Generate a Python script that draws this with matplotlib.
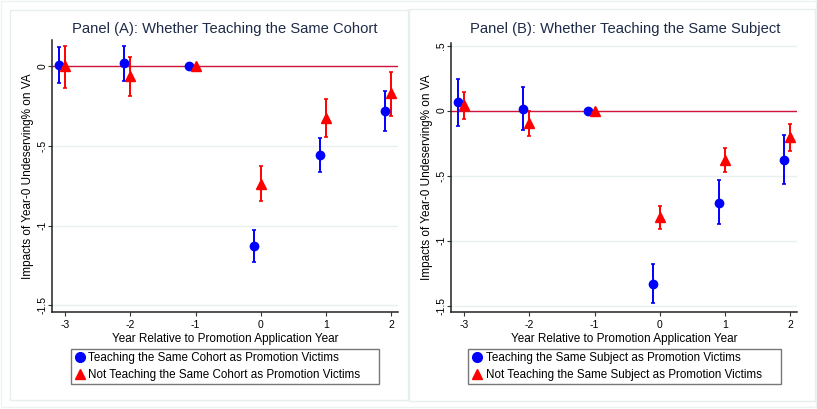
import matplotlib
matplotlib.use("Agg")
import matplotlib.pyplot as plt
from matplotlib.lines import Line2D
from matplotlib.patches import Rectangle

plt.rcParams['font.family'] = ['Liberation Sans', 'DejaVu Sans']

years = [-3, -2, -1, 0, 1, 2]

# Panel A: same cohort
a_same = [0.008, 0.019, 0.0, -1.129, -0.556, -0.280]
a_same_lo = [-0.107, -0.090, 0.0, -1.230, -0.665, -0.404]
a_same_hi = [0.123, 0.127, 0.0, -1.029, -0.448, -0.157]
a_not = [0.0, -0.061, 0.0, -0.740, -0.322, -0.167]
a_not_lo = [-0.134, -0.186, 0.0, -0.845, -0.445, -0.310]
a_not_hi = [0.130, 0.056, 0.0, -0.625, -0.205, -0.036]

# Panel B: same subject
b_same = [0.064, 0.015, 0.0, -1.331, -0.708, -0.377]
b_same_lo = [-0.115, -0.152, 0.0, -1.483, -0.870, -0.564]
b_same_hi = [0.244, 0.182, 0.0, -1.180, -0.536, -0.185]
b_not = [0.044, -0.095, 0.0, -0.818, -0.377, -0.202]
b_not_lo = [-0.062, -0.192, 0.0, -0.908, -0.472, -0.313]
b_not_hi = [0.144, -0.005, 0.0, -0.733, -0.287, -0.100]

titles = ["Panel (A): Whether Teaching the Same Cohort",
          "Panel (B): Whether Teaching the Same Subject"]
legend_same = ["Teaching the Same Cohort as Promotion Victims",
               "Teaching the Same Subject as Promotion Victims"]
legend_not = ["Not Teaching the Same Cohort as Promotion Victims",
              "Not Teaching the Same Subject as Promotion Victims"]
yticks_list = [[0, -0.5, -1, -1.5], [0.5, 0, -0.5, -1, -1.5]]
yticklabels_list = [["0", "-.5", "-1", "-1.5"], [".5", "0", "-.5", "-1", "-1.5"]]
xlabel = "Year Relative to Promotion Application Year"
ylabel = "Impacts of Year-0 Undeserving% on VA"

W, H = 817, 409
fig = plt.figure(figsize=(W / 100, H / 100), dpi=100)
fig.patch.set_facecolor('white')

def fx(px):
    return px / W

def fy(py):
    return 1 - py / H

# outer faint border and panel boxes
fig.add_artist(Rectangle((fx(1), fy(407)), fx(815), 406 / H, transform=fig.transFigure,
                         fill=False, edgecolor='#eef2f2', linewidth=1))
fig.add_artist(Rectangle((fx(10), fy(400)), fx(398), 390 / H, transform=fig.transFigure,
                         fill=False, edgecolor='#e6eeee', linewidth=1))
fig.add_artist(Rectangle((fx(409), fy(401)), fx(406), 392 / H, transform=fig.transFigure,
                         fill=False, edgecolor='#e6eeee', linewidth=1))

panels = [
    dict(rect=(52, 40, 398, 312), ylim=(-1.543, 0.165),
         same=(a_same, a_same_lo, a_same_hi), nt=(a_not, a_not_lo, a_not_hi),
         leg=(71, 347, 379, 386), title_x=225, ylab_x=34),
    dict(rect=(451, 43, 797, 312), ylim=(-1.549, 0.52),
         same=(b_same, b_same_lo, b_same_hi), nt=(b_not, b_not_lo, b_not_hi),
         leg=(468, 347, 781, 386), title_x=625, ylab_x=433),
]

for i, p in enumerate(panels):
    x0, y0, x1, y1 = p['rect']
    ax = fig.add_axes([fx(x0), fy(y1), fx(x1 - x0), (y1 - y0) / H])
    ax.set_xlim(-3.2, 2.1)
    ax.set_ylim(*p['ylim'])
    for yt in yticks_list[i]:
        ax.axhline(yt, color='#e8f0f0', linewidth=1, zorder=0)
    ax.axhline(0, color='#d2143c', linewidth=1, zorder=1)

    s, slo, shi = p['same']
    n, nlo, nhi = p['nt']
    xs = [y - 0.1 for y in years]
    for xv, lo, hi in zip(xs, slo, shi):
        if hi != lo:
            ax.errorbar([xv], [(lo + hi) / 2], yerr=[[(hi - lo) / 2], [(hi - lo) / 2]],
                        fmt='none', ecolor='#0000ff', elinewidth=1.4, capsize=1.2,
                        capthick=1.2, zorder=2)
    for xv, lo, hi in zip(years, nlo, nhi):
        if hi != lo:
            ax.errorbar([xv], [(lo + hi) / 2], yerr=[[(hi - lo) / 2], [(hi - lo) / 2]],
                        fmt='none', ecolor='#ff0000', elinewidth=1.4, capsize=1.2,
                        capthick=1.2, zorder=2)
    ax.plot(xs, s, 'o', color='#0000ff', markersize=6, linestyle='none', zorder=3)
    ax.plot(years, n, '^', color='#ff0000', markersize=6.8, linestyle='none', zorder=3)

    ax.set_xticks(years)
    ax.set_xticklabels([str(y) for y in years], fontsize=7.5)
    ax.set_yticks(yticks_list[i])
    ax.set_yticklabels(yticklabels_list[i], fontsize=7.5, rotation=90, va='center')
    ax.tick_params(axis='both', direction='out', length=3, width=0.8, color='#333333')
    ax.tick_params(axis='x', pad=3)
    ax.tick_params(axis='y', pad=0.5)
    for side in ['top', 'right']:
        ax.spines[side].set_visible(False)
    for side in ['left', 'bottom']:
        ax.spines[side].set_color('#222222')
        ax.spines[side].set_linewidth(1.1)
    ax.set_xlabel(xlabel, fontsize=8.5, labelpad=2)
    ax.set_ylabel(ylabel, fontsize=8.5)
    ax.yaxis.set_label_coords((p['ylab_x'] - x0) / (x1 - x0), 0.5)
    fig.text(fx(p['title_x']), fy(29), titles[i], fontsize=10.6, color='#1e2b48',
             ha='center', va='center')

    lx0, ly0, lx1, ly1 = p['leg']
    handles = [Line2D([], [], marker='o', color='#0000ff', linestyle='none', markersize=7),
               Line2D([], [], marker='^', color='#ff0000', linestyle='none', markersize=7.5)]
    leg = ax.legend(handles, [legend_same[i], legend_not[i]],
                    bbox_to_anchor=(fx(lx0), fy(ly1), fx(lx1 - lx0), (ly1 - ly0) / H),
                    bbox_transform=fig.transFigure, loc='center left', mode='expand',
                    fontsize=8.4, frameon=True, fancybox=False, borderpad=0.3,
                    handletextpad=0.2, handlelength=1.0, labelspacing=0.42,
                    borderaxespad=0)
    leg.get_frame().set_edgecolor('#555555')
    leg.get_frame().set_linewidth(1.0)

fig.savefig('out.png', dpi=100, facecolor='white')
